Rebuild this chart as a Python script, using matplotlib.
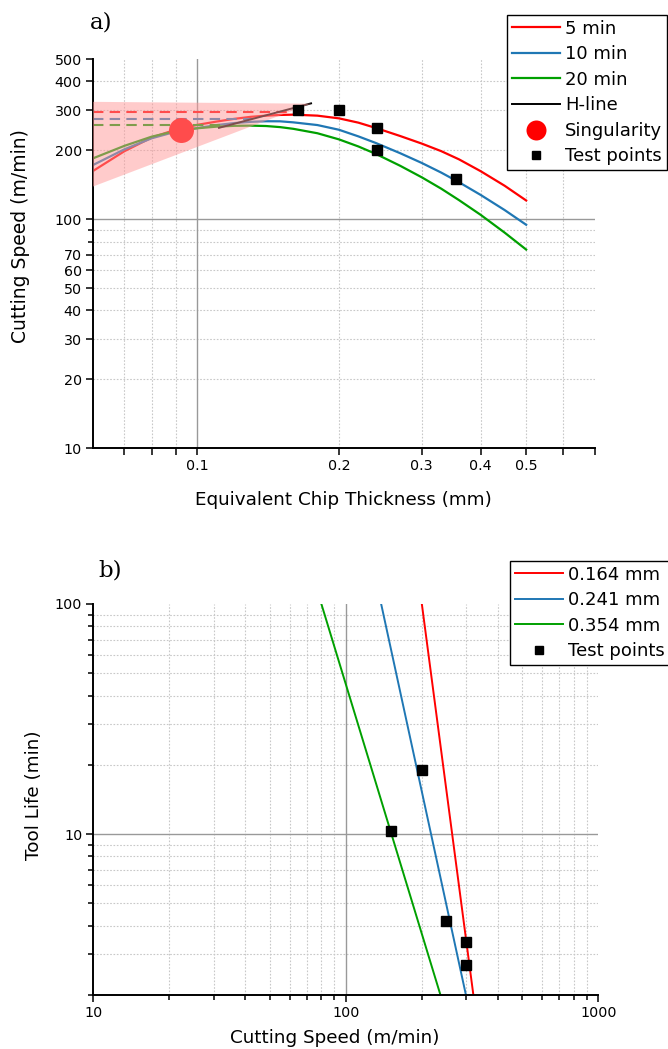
import matplotlib
matplotlib.use("Agg")
import matplotlib.pyplot as plt

plt.rcParams['font.family'] = ['DejaVu Sans']

# ---- a) cutting speed vs equivalent chip thickness ----
h_curve = [0.06, 0.07, 0.08, 0.09, 0.10, 0.11, 0.12, 0.13, 0.14, 0.15, 0.16,
           0.18, 0.20, 0.22, 0.24, 0.27, 0.30, 0.33, 0.36, 0.40, 0.45, 0.50]
v_5min = [162.5, 198.4, 227.6, 246.6, 258.6, 267.4, 274.8, 280.4, 283.7, 285.7, 286.6,
          283.7, 276.1, 264.4, 250.4, 231.1, 214.2, 198.5, 182.8, 162.4, 140.2, 120.9]
v_10min = [172.6, 202.2, 226.0, 241.5, 250.4, 258.1, 263.4, 266.6, 268.2, 268.0, 265.2,
           258.1, 246.2, 230.3, 215.2, 194.4, 176.3, 160.0, 145.2, 127.9, 109.8, 94.7]
v_20min = [184.6, 209.4, 229.7, 243.0, 249.9, 254.0, 256.1, 256.6, 255.6, 252.8, 248.5,
           237.7, 223.5, 208.1, 192.8, 171.3, 152.6, 136.1, 121.3, 104.7, 87.5, 73.8]

# horizontal dashed reference levels (level, end thickness)
dash_levels = [295, 275, 258]
dash_ends = [0.155, 0.131, 0.112]

hline_h = [0.1112, 0.1745]
hline_v = [251, 321]

cone_h = [0.06, 0.06, 0.1745]
cone_v = [326, 139, 320]

sing_h = [0.0922]
sing_v = [245]

test_h = [0.164, 0.2, 0.241, 0.241, 0.354]
test_v = [300, 300, 250, 200, 150]

# ---- b) Taylor lines, tool life vs cutting speed ----
line_labels = ['0.164 mm', '0.241 mm', '0.354 mm']
taylor_v = [[200, 320], [138, 299], [80, 237]]
taylor_t = [[100, 2], [100, 2], [100, 2]]

tp_v = [151, 200, 250, 300, 300]
tp_t = [10.3, 19, 4.2, 3.4, 2.7]

colors = ['#ff0000', '#1f77b4', '#00a000']
curve_labels = ['5 min', '10 min', '20 min']

W, H = 668, 1049
fig = plt.figure(figsize=(W / 100, H / 100), dpi=100)


def px_axes(left, right, top, bottom):
    return fig.add_axes([left / W, 1 - bottom / H, (right - left) / W, (bottom - top) / H])


def style_axes(ax):
    for s in ['top', 'right']:
        ax.spines[s].set_visible(False)
    for s in ['left', 'bottom']:
        ax.spines[s].set_linewidth(1.4)
    ax.tick_params(which='both', direction='out', width=1.1, labelsize=10.3, pad=3)
    ax.tick_params(which='major', length=5)
    ax.tick_params(which='minor', length=3.5)


grid_kw = dict(color='#c8c8c8', lw=0.8, ls=(0, (1.5, 1.5)), zorder=0)
major_kw = dict(color='#999999', lw=1.0, zorder=0.5)

leg_kw = dict(loc='upper left', fontsize=13, frameon=True, fancybox=False,
              edgecolor='black', framealpha=1, handlelength=2.66, handletextpad=0.3,
              labelspacing=0.42, borderpad=0.25, borderaxespad=0, markerscale=0.8)

# panel a
ax = px_axes(92.9, 594.9, 59.3, 448.3)
ax.set_xscale('log')
ax.set_yscale('log')
ax.set_xlim(0.06, 0.7)
ax.set_ylim(10, 500)
style_axes(ax)
ax.set_xticks([0.1, 0.2, 0.3, 0.4, 0.5])
ax.set_xticklabels(['0.1', '0.2', '0.3', '0.4', '0.5'])
ax.set_xticks([0.07, 0.08, 0.09, 0.6, 0.7], minor=True)
ax.set_xticklabels([], minor=True)
ax.tick_params(axis='x', which='minor', length=5)
ax.set_yticks([10, 20, 30, 40, 50, 60, 70, 100, 200, 300, 400, 500])
ax.set_yticklabels(['10', '20', '30', '40', '50', '60', '70', '100', '200', '300', '400', '500'])
ax.set_yticks([80, 90], minor=True)
ax.set_yticklabels([], minor=True)
for x in [0.07, 0.08, 0.09, 0.2, 0.3, 0.4, 0.5, 0.6]:
    ax.axvline(x, **grid_kw)
for y in [20, 30, 40, 50, 60, 70, 80, 90, 200, 300, 400]:
    ax.axhline(y, **grid_kw)
ax.axvline(0.1, **major_kw)
ax.axhline(100, **major_kw)

for v, c, lab in zip([v_5min, v_10min, v_20min], colors, curve_labels):
    ax.plot(h_curve, v, color=c, lw=1.6, label=lab, zorder=2)
for lev, end, c in zip(dash_levels, dash_ends, colors):
    ax.plot([0.06, end], [lev, lev], color=c, lw=1.5, ls=(0, (5, 3)), zorder=2)
ax.plot(hline_h, hline_v, color='black', lw=1.4, label='H-line', zorder=2)
ax.plot(sing_h, sing_v, 'o', color='#ff0000', ms=18, mec='none', label='Singularity', zorder=2.5)
ax.fill(cone_h, cone_v, color='#ff9999', alpha=0.5, lw=0, zorder=3)
ax.plot(test_h, test_v, 's', color='black', ms=7.5, ls='none', label='Test points', zorder=5)

ax.set_xlabel('Equivalent Chip Thickness (mm)', fontsize=13.2)
ax.set_ylabel('Cutting Speed (m/min)', fontsize=13.5)
ax.xaxis.set_label_coords(0.5, -0.11)
ax.yaxis.set_label_coords(-0.125, 0.545)

leg = ax.legend(bbox_to_anchor=(507 / W, 1 - 15 / H), bbox_transform=fig.transFigure, **leg_kw)
leg.get_frame().set_linewidth(1.0)

fig.text(90 / W, 1 - 29 / H, 'a)', family='DejaVu Serif', fontsize=16.5)

# panel b
bx = px_axes(93.4, 598.3, 604, 995)
bx.set_xscale('log')
bx.set_yscale('log')
bx.set_xlim(10, 1000)
bx.set_ylim(2, 100)
style_axes(bx)
bx.set_xticks([10, 100, 1000])
bx.set_xticklabels(['10', '100', '1000'])
bx.set_yticks([10, 100])
bx.set_yticklabels(['10', '100'])
bx.tick_params(axis='y', which='minor', labelleft=False)
bx.tick_params(axis='x', which='minor', labelbottom=False)
bx_vgrid = [20, 30, 40, 50, 60, 70, 80, 90, 200, 300, 400, 500, 600, 700, 800, 900]
bx_hgrid = [3, 4, 5, 6, 7, 8, 9, 20, 30, 40, 50, 60, 70, 80, 90]
for x in bx_vgrid:
    bx.axvline(x, **grid_kw)
for y in bx_hgrid:
    bx.axhline(y, **grid_kw)
bx.axvline(100, **major_kw)
bx.axhline(10, **major_kw)

for vv, tt, c, lab in zip(taylor_v, taylor_t, colors, line_labels):
    bx.plot(vv, tt, color=c, lw=1.4, label=lab, zorder=2)
bx.plot(tp_v, tp_t, 's', color='black', ms=7.5, ls='none', label='Test points', zorder=5)

bx.set_xlabel('Cutting Speed (m/min)', fontsize=13.2)
bx.set_ylabel('Tool Life (min)', fontsize=13.2)
bx.xaxis.set_label_coords(0.478, -0.087)
bx.yaxis.set_label_coords(-0.10, 0.51)

leg_b = bx.legend(bbox_to_anchor=(510 / W, 1 - 561 / H), bbox_transform=fig.transFigure, **leg_kw)
leg_b.get_frame().set_linewidth(1.0)

fig.text(98 / W, 1 - 577 / H, 'b)', family='DejaVu Serif', fontsize=16.5)

fig.savefig('out.png', dpi=100)
